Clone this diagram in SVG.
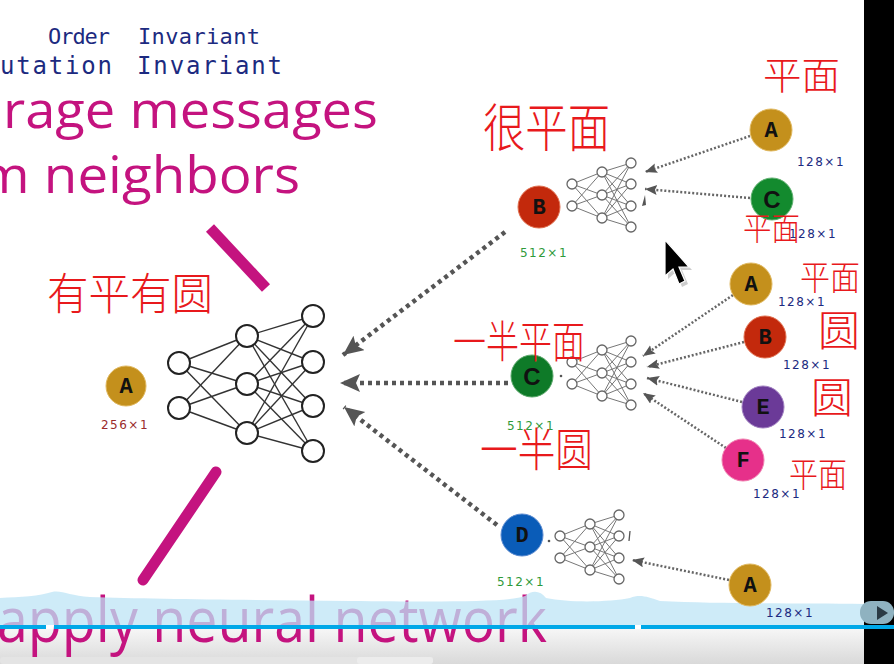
<svg xmlns="http://www.w3.org/2000/svg" xmlns:xlink="http://www.w3.org/1999/xlink" width="894" height="664" viewBox="0 0 894 664">
<style>
.mag{font-family:"Open Sans","Liberation Sans",sans-serif;fill:#c4137f}
.blue{font-family:"DejaVu Sans Mono","Liberation Mono",monospace;fill:#1c2a80}
.hw{font-family:"Noto Sans CJK SC","Noto Sans",sans-serif;fill:#e8191c;font-weight:300}
.let{font-family:"Liberation Mono",monospace;font-weight:bold;font-size:22px;text-anchor:middle;fill:#111}
.letc{font-family:"Liberation Sans",sans-serif;font-weight:bold;font-size:24px;text-anchor:middle;fill:#111}
.lbl{font-family:"DejaVu Sans","Liberation Sans",sans-serif;font-size:12px;letter-spacing:1.5px;text-anchor:middle}
.g{fill:#2f9a3a}
.n{fill:#1c2a80}
.bignn line{stroke:#333;stroke-width:1.4}
.bignn circle{fill:#fff;stroke:#222;stroke-width:2}
.snn line{stroke:#777;stroke-width:1}
.snn circle{fill:#fff;stroke:#666;stroke-width:1.3}
.dotb{fill:none;stroke:#555;stroke-width:4.5;stroke-dasharray:4 4}
.dots{fill:none;stroke:#666;stroke-width:2.5;stroke-dasharray:2 2}
</style>
<defs>
<marker id="ab" markerUnits="userSpaceOnUse" markerWidth="20" markerHeight="20" refX="20" refY="9" orient="auto">
<path d="M0,0 L20,9 L0,18 L4,9 z" fill="#555"/>
</marker>
<marker id="as" markerUnits="userSpaceOnUse" markerWidth="12" markerHeight="12" refX="12" refY="5" orient="auto">
<path d="M0,0 L12,5 L0,10 L2,5 z" fill="#555"/>
</marker>
<g id="snn" class="snn">
<line x1="0" y1="0" x2="30" y2="-12"/><line x1="0" y1="0" x2="30" y2="11"/><line x1="0" y1="0" x2="30" y2="34"/>
<line x1="0" y1="22" x2="30" y2="-12"/><line x1="0" y1="22" x2="30" y2="11"/><line x1="0" y1="22" x2="30" y2="34"/>
<line x1="30" y1="-12" x2="59" y2="-21"/><line x1="30" y1="-12" x2="59" y2="0"/><line x1="30" y1="-12" x2="59" y2="22"/><line x1="30" y1="-12" x2="59" y2="43"/>
<line x1="30" y1="11" x2="59" y2="-21"/><line x1="30" y1="11" x2="59" y2="0"/><line x1="30" y1="11" x2="59" y2="22"/><line x1="30" y1="11" x2="59" y2="43"/>
<line x1="30" y1="34" x2="59" y2="-21"/><line x1="30" y1="34" x2="59" y2="0"/><line x1="30" y1="34" x2="59" y2="22"/><line x1="30" y1="34" x2="59" y2="43"/>
<circle cx="0" cy="0" r="5"/><circle cx="0" cy="22" r="5"/>
<circle cx="30" cy="-12" r="5"/><circle cx="30" cy="11" r="5"/><circle cx="30" cy="34" r="5"/>
<circle cx="59" cy="-21" r="5"/><circle cx="59" cy="0" r="5"/><circle cx="59" cy="22" r="5"/><circle cx="59" cy="43" r="5"/>
</g>
<linearGradient id="gr" x1="0" y1="0" x2="0" y2="1">
<stop offset="0" stop-color="#f6f6f6"/><stop offset="1" stop-color="#d9d9d9"/>
</linearGradient>
</defs>
<rect x="0" y="0" width="894" height="664" fill="#fff"/>
<rect x="0" y="629" width="864" height="35" fill="url(#gr)"/>

<g id="title-texts">
<text class="blue" x="48" y="44" font-size="22" textLength="62">Order</text>
<text class="blue" x="138" y="44" font-size="22" textLength="122">Invariant</text>
<text class="blue" x="0" y="74" font-size="24" textLength="112">utation</text>
<text class="blue" x="137" y="74" font-size="24" textLength="145">Invariant</text>
<text class="mag" x="3" y="128" font-size="52" textLength="375" lengthAdjust="spacingAndGlyphs">rage messages</text>
<text class="mag" x="-21" y="193" font-size="52" textLength="321" lengthAdjust="spacingAndGlyphs">m neighbors</text>
</g>

<g id="strokes" stroke="#c4137f" stroke-width="11" stroke-linecap="round">
<line x1="210" y1="228" x2="266" y2="288" stroke-linecap="butt"/>
<line x1="216" y1="472" x2="143" y2="580"/>
</g>

<g id="connectors">
<line class="dotb" x1="505" y1="232" x2="343" y2="355" marker-end="url(#ab)"/>
<line class="dotb" x1="508" y1="383" x2="340" y2="383" marker-end="url(#ab)"/>
<line class="dotb" x1="497" y1="525" x2="344" y2="407" marker-end="url(#ab)"/>
<line class="dots" x1="750" y1="136" x2="645" y2="172" marker-end="url(#as)"/>
<line class="dots" x1="750" y1="198" x2="645" y2="189" marker-end="url(#as)"/>
<polygon points="645,195 642,206 646,205" fill="#555"/>
<line class="dots" x1="733" y1="295" x2="643" y2="356" marker-end="url(#as)"/>
<line class="dots" x1="744" y1="342" x2="647" y2="367" marker-end="url(#as)"/>
<line class="dots" x1="742" y1="402" x2="647" y2="378" marker-end="url(#as)"/>
<line class="dots" x1="726" y1="448" x2="643" y2="393" marker-end="url(#as)"/>
<line class="dots" x1="729" y1="580" x2="632" y2="560" marker-end="url(#as)"/>
<circle cx="561" cy="376" r="1.3" fill="#555"/>
<circle cx="549" cy="541" r="1.3" fill="#555"/>
<line x1="630" y1="531" x2="629" y2="541" stroke="#555" stroke-width="1.3"/>
</g>

<g id="main-nn" class="bignn">
<line x1="179" y1="363" x2="247" y2="336"/><line x1="179" y1="363" x2="247" y2="384"/><line x1="179" y1="363" x2="247" y2="433"/>
<line x1="179" y1="408" x2="247" y2="336"/><line x1="179" y1="408" x2="247" y2="384"/><line x1="179" y1="408" x2="247" y2="433"/>
<line x1="247" y1="336" x2="313" y2="316"/><line x1="247" y1="336" x2="313" y2="362"/><line x1="247" y1="336" x2="313" y2="406"/><line x1="247" y1="336" x2="313" y2="451"/>
<line x1="247" y1="384" x2="313" y2="316"/><line x1="247" y1="384" x2="313" y2="362"/><line x1="247" y1="384" x2="313" y2="406"/><line x1="247" y1="384" x2="313" y2="451"/>
<line x1="247" y1="433" x2="313" y2="316"/><line x1="247" y1="433" x2="313" y2="362"/><line x1="247" y1="433" x2="313" y2="406"/><line x1="247" y1="433" x2="313" y2="451"/>
<circle cx="179" cy="363" r="11"/><circle cx="179" cy="408" r="11"/>
<circle cx="247" cy="336" r="11"/><circle cx="247" cy="384" r="11"/><circle cx="247" cy="433" r="11"/>
<circle cx="313" cy="316" r="11"/><circle cx="313" cy="362" r="11"/><circle cx="313" cy="406" r="11"/><circle cx="313" cy="451" r="11"/>
</g>

<g id="nn-B"><use xlink:href="#snn" x="572" y="184"/></g>
<g id="nn-C"><use xlink:href="#snn" x="572" y="362"/></g>
<g id="nn-D"><use xlink:href="#snn" x="560" y="536"/></g>

<g id="node-A-main">
<circle cx="126" cy="386" r="20" fill="#c4901c" stroke="#e0b860" stroke-width="1"/>
<text class="let" x="126" y="393">A</text>
<text class="lbl" x="125" y="429" fill="#9a2a2a">256×1</text>
</g>
<g id="node-B">
<circle cx="539" cy="207" r="21" fill="#c3290c" stroke="#e07050" stroke-width="1"/>
<text class="let" x="539" y="214">B</text>
<text class="lbl g" x="544" y="257" font-size="14">512×1</text>
</g>
<g id="node-C">
<circle cx="532" cy="376" r="21" fill="#0e7a28" stroke="#5aa86a" stroke-width="1"/>
<text class="letc" x="532" y="385">C</text>
<text class="lbl g" x="531" y="430" font-size="14">512×1</text>
</g>
<g id="node-D">
<circle cx="522" cy="535" r="21" fill="#0a5cb8" stroke="#5a8ad0" stroke-width="1"/>
<text class="let" x="522" y="542">D</text>
<text class="lbl g" x="521" y="586" font-size="14">512×1</text>
</g>
<g id="node-A1">
<circle cx="771" cy="130" r="21" fill="#c4901c" stroke="#e0b860" stroke-width="1"/>
<text class="let" x="771" y="137">A</text>
<text class="lbl n" x="821" y="166">128×1</text>
</g>
<g id="node-C1">
<circle cx="772" cy="199" r="21" fill="#138a2e" stroke="#60b070" stroke-width="1"/>
<text class="letc" x="772" y="208">C</text>
<text class="lbl n" x="813" y="238">128×1</text>
</g>
<g id="node-A2">
<circle cx="751" cy="284" r="21" fill="#c4901c" stroke="#e0b860" stroke-width="1"/>
<text class="let" x="751" y="291">A</text>
<text class="lbl n" x="802" y="306">128×1</text>
</g>
<g id="node-B2">
<circle cx="765" cy="337" r="21" fill="#c3290c" stroke="#e07050" stroke-width="1"/>
<text class="let" x="765" y="344">B</text>
<text class="lbl n" x="807" y="369">128×1</text>
</g>
<g id="node-E2">
<circle cx="763" cy="407" r="21" fill="#6b3a98" stroke="#a080c0" stroke-width="1"/>
<text class="let" x="763" y="414">E</text>
<text class="lbl n" x="803" y="438">128×1</text>
</g>
<g id="node-F2">
<circle cx="743" cy="460" r="21" fill="#e6308a" stroke="#f080b0" stroke-width="1"/>
<text class="let" x="743" y="467">F</text>
<text class="lbl n" x="777" y="498">128×1</text>
</g>

<g id="annotations">
<text class="hw" x="47" y="310" font-size="44" textLength="166" lengthAdjust="spacingAndGlyphs">有平有圆</text>
<text class="hw" x="483" y="147" font-size="52" textLength="127" lengthAdjust="spacingAndGlyphs">很平面</text>
<text class="hw" x="763" y="89" font-size="38" textLength="77" lengthAdjust="spacingAndGlyphs">平面</text>
<text class="hw" x="743" y="240" font-size="32" textLength="57" lengthAdjust="spacingAndGlyphs">平面</text>
<text class="hw" x="800" y="290" font-size="34" textLength="60" lengthAdjust="spacingAndGlyphs">平面</text>
<text class="hw" x="818" y="346" font-size="42">圆</text>
<text class="hw" x="811" y="413" font-size="42">圆</text>
<text class="hw" x="789" y="487" font-size="34" textLength="58" lengthAdjust="spacingAndGlyphs">平面</text>
<text class="hw" x="453" y="358" font-size="44" textLength="132" lengthAdjust="spacingAndGlyphs">一半平面</text>
<text class="hw" x="480" y="466" font-size="46" textLength="113" lengthAdjust="spacingAndGlyphs">一半圆</text>
</g>

<g id="cursor">
<polygon points="668,243 668,279 676,272 682,287 688,284 682,270 692,270" fill="#000" opacity="0.2"/>
<polygon points="665,240 665,276 673,269 679,284 685,281 679,267 689,267" fill="#000" stroke="#fff" stroke-width="1.2"/>
</g>

<g id="bottom-text">
<text class="mag" x="-3" y="642" font-size="62" textLength="550" lengthAdjust="spacingAndGlyphs" fill="#b8157f">apply neural network</text>
</g>
<g id="player-bar">
<path d="M0,598 C20,597 40,596 52,592 C62,590 70,596 90,597 C150,599 250,600 350,601 C450,602 510,602 525,596 C532,590 540,590 546,598 C570,603 610,602 630,598 C640,594 648,597 660,601 C720,604 800,603 864,604 L864,625 L0,625 z" fill="#bde4f5" opacity="0.75"/>
<rect x="0" y="625" width="46" height="4" fill="#00a8e8"/>
<rect x="54" y="625" width="581" height="4" fill="#00a8e8"/>
<rect x="641" y="625" width="253" height="4" fill="#00a8e8"/>
<rect x="0" y="657" width="433" height="7" rx="3" fill="#e4e4e4"/>
<rect x="357" y="657" width="76" height="7" rx="3" fill="#ececec"/>
</g>

<g id="node-A3">
<circle cx="750" cy="585" r="21" fill="#c4901c" stroke="#e0b860" stroke-width="1"/>
<text class="let" x="750" y="592">A</text>
<text class="lbl n" x="790" y="617" font-size="11">128×1</text>
</g>

<rect x="864" y="0" width="30" height="625" fill="#000"/>
<rect x="864" y="629" width="30" height="35" fill="#000"/>
<rect x="860" y="601" width="34" height="23" rx="11" fill="#8fb2c0"/>
<polygon points="877,606 877,620 888,613" fill="#2a3a44"/>
</svg>
